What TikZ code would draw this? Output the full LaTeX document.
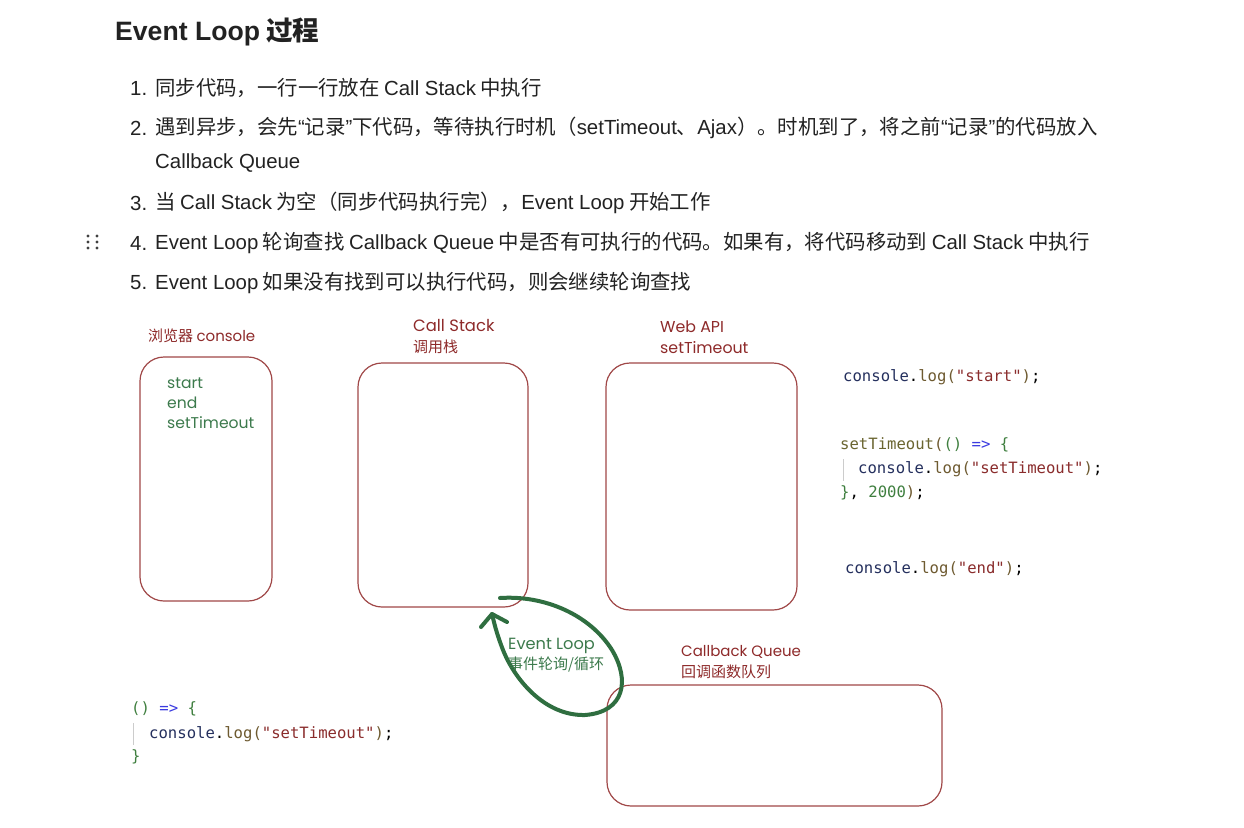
\documentclass[tikz,border=0pt]{standalone}
\usepackage{fontspec}
\setmainfont{Noto Sans CJK SC}
\newfontfamily\latf{Liberation Sans}
\newfontfamily\handf{Poppins}
\newfontfamily\codef{DejaVu Sans Mono}
\usetikzlibrary{calc}
\definecolor{bodytxt}{HTML}{222222}
\definecolor{hred}{HTML}{8E2A2A}
\definecolor{boxred}{HTML}{A04848}
\definecolor{hgreen}{HTML}{3C7A4C}
\definecolor{loopgreen}{HTML}{2F6E40}
\definecolor{cnavy}{HTML}{25305E}
\definecolor{clog}{HTML}{6E5A30}
\definecolor{cstr}{HTML}{8A2C2C}
\definecolor{cgrn}{HTML}{3F7F3F}
\definecolor{carr}{HTML}{3B3BE0}
\definecolor{cfn}{HTML}{6A6530}
\newcommand\Cn[1]{\textcolor{cnavy}{#1}}
\newcommand\Cl[1]{\textcolor{clog}{#1}}
\newcommand\Cs[1]{\textcolor{cstr}{#1}}
\newcommand\Cg[1]{\textcolor{cgrn}{#1}}
\newcommand\Ca[1]{\textcolor{carr}{#1}}
\newcommand\Cf[1]{\textcolor{cfn}{#1}}
\newcommand\La[1]{{\latf #1}}
\newcommand\Hl[1]{{\handf #1}}
\begin{document}
\begin{tikzpicture}[x=1pt,y=-1pt,
  body/.style={anchor=west,inner sep=0pt,text=bodytxt,font=\fontsize{20.4}{24}\selectfont},
  rbox/.style={draw=boxred,line width=1.2pt,rounded corners=24pt},
  hlabel/.style={anchor=west,inner sep=0pt,text=hred,font=\fontsize{15}{21}\selectfont,align=left},
  glabel/.style={anchor=west,inner sep=0pt,text=hgreen,font=\fontsize{15}{20}\selectfont,align=left},
  code/.style={anchor=west,inner sep=0pt,font=\codef\fontsize{15.6}{19}\selectfont}]
\useasboundingbox (0,0) rectangle (1244,827);
\fill[white] (0,0) rectangle (1244,827);
% title and list
\node[body,font=\bfseries\fontsize{26.6}{30}\selectfont] (title) at (115,32) {\La{Event Loop} 过程};
\node[body] (n1) at (130,88) {\La{1.}};
\node[body] (t1) at (155,88) {同步代码，一行一行放在 \La{Call Stack} 中执行};
\node[body] (n2) at (130,128) {\La{2.}};
\node[body] (t2) at (155,128) {遇到异步，会先\La{“}记录\La{”}下代码，等待执行时机（\La{setTimeout}、\La{Ajax}）。时机到了，将之前\La{“}记录\La{”}的代码放入};
\node[body] (t2b) at (155,163) {\La{Callback Queue}};
\node[body] (n3) at (130,203) {\La{3.}};
\node[body] (t3) at (155,203) {当 \La{Call Stack} 为空（同步代码执行完），\La{Event Loop} 开始工作};
\node[body] (n4) at (130,243) {\La{4.}};
\node[body] (t4) at (155,243) {\La{Event Loop} 轮询查找 \La{Callback Queue} 中是否有可执行的代码。如果有，将代码移动到 \La{Call Stack} 中执行};
\node[body] (n5) at (130,283) {\La{5.}};
\node[body] (t5) at (155,283) {\La{Event Loop} 如果没有找到可以执行代码，则会继续轮询查找};
% drag handle
\foreach \dx in {88,97} \foreach \dy in {236,242,248} \fill[black!75] (\dx,\dy) circle (1.6pt);
% boxes
\draw[rbox] (140,357) rectangle (272,601);
\node[hlabel] (lconsole) at (148,336) {浏览器 \Hl{console}};
\node[glabel,font=\handf\fontsize{15.6}{20}\selectfont] (cout) at (167,403) {start\\end\\setTimeout};
\draw[rbox] (358,363) rectangle (528,607);
\node[hlabel] (lstack) at (413,337) {{\handf\fontsize{16.4}{21}\selectfont Call Stack}\\调用栈};
\draw[rbox] (606,363) rectangle (797,610);
\node[hlabel,font=\handf\fontsize{15.8}{21}\selectfont] (lweb) at (660,337) {Web API\\setTimeout};
\draw[rbox] (607,685) rectangle (942,806);
\node[hlabel] (lqueue) at (681,662) {\Hl{Callback Queue}\\回调函数队列};
% event loop arrow
\coordinate (loopStart) at (500,598);
\coordinate (loopTip) at (492,614);
\draw[loopgreen,line width=4pt,line cap=round,line join=round]
  (loopStart) .. controls (545,595) and (590,615) .. (612,650)
  .. controls (630,680) and (625,712) .. (585,715)
  .. controls (545,716) and (515,680) .. (503,650)
  .. controls (496,632) and (494,622) .. (loopTip);
\draw[loopgreen,line width=4pt,line cap=round,line join=round]
  (481,627) -- (loopTip) -- (507,622);
\node[glabel] (lloop) at (508,655) {{\handf\fontsize{16.2}{20}\selectfont Event Loop}\\事件轮询/循环};
% code on the right
\node[code] (c1) at (843,377) {\Cn{console}.\Cl{log(}\Cs{"start"}\Cl{)};};
\node[code] (c2) at (840,445) {\Cf{setTimeout}\Cl{(}\Cg{()} \Ca{=>} \Cg{\{}};
\draw[black!20,line width=1pt] (843,459) -- (843,481);
\node[code] (c3) at (858,469) {\Cn{console}.\Cl{log(}\Cs{"setTimeout"}\Cl{)};};
\node[code] (c4) at (840,493) {\Cg{\}}, \Cg{2000}\Cl{)};};
\node[code] (c5) at (845,569) {\Cn{console}.\Cl{log(}\Cs{"end"}\Cl{)};};
% code bottom left
\node[code] (d1) at (131,709) {\Cg{()} \Ca{=>} \Cg{\{}};
\draw[black!20,line width=1pt] (133,723) -- (133,745);
\node[code] (d2) at (149,734) {\Cn{console}.\Cl{log(}\Cs{"setTimeout"}\Cl{)};};
\node[code] (d3) at (131,757) {\Cg{\}}};
\end{tikzpicture}
\end{document}
